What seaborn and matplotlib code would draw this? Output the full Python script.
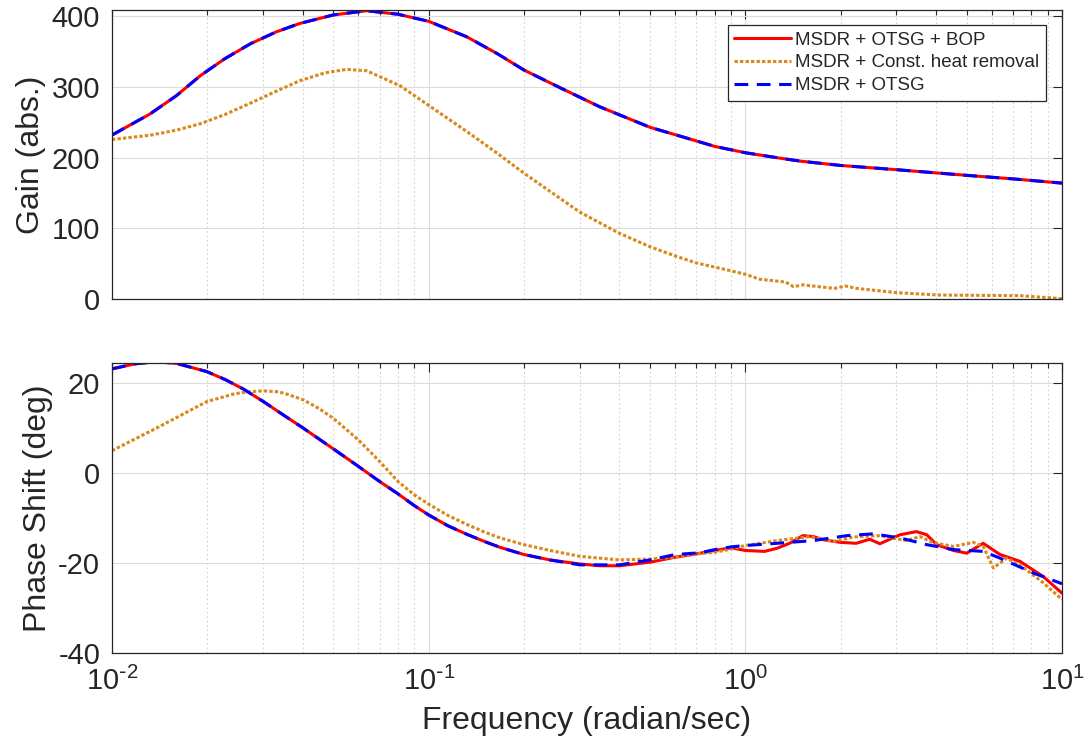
import numpy as np
import pandas as pd
import seaborn as sns
import matplotlib
matplotlib.use("Agg")
import matplotlib.pyplot as plt
from matplotlib.ticker import LogLocator, NullFormatter, FixedLocator

# gain curves
freq_gain = [0.01, 0.0132, 0.016, 0.019, 0.0227, 0.0273, 0.033, 0.0392, 0.05, 0.0637,
             0.08, 0.1, 0.132, 0.165, 0.2, 0.26, 0.347, 0.5, 0.65, 0.8, 1.0, 1.3, 1.5, 2.0,
             3.0, 5.0, 7.0, 10.0]
gain_bop = [232, 262, 288, 316, 340, 361, 378, 390, 402, 408,
            403, 393, 371, 347, 324, 299, 272, 243, 228, 216, 207, 199, 195, 189,
            183, 175, 170, 164]
gain_otsg = [232, 262, 288, 316, 340, 361, 378, 390, 402, 408,
             403, 393, 371, 347, 324, 299, 272, 243, 228, 216, 207, 199, 195, 189,
             183, 175, 170, 164]

freq_gain_const = [0.01, 0.0132, 0.016, 0.019, 0.0227, 0.0273, 0.033, 0.0392, 0.047, 0.0551,
                   0.0637, 0.0811, 0.1, 0.132, 0.165, 0.2, 0.3, 0.4, 0.5, 0.6, 0.7, 0.9,
                   1.0, 1.11, 1.34, 1.42, 1.52, 1.91, 2.07, 2.25, 3.0, 4.08, 7.36, 10.0]
gain_const = [225.7, 231.8, 239, 248, 261, 277, 294, 309, 320, 325,
              323, 302, 274, 237, 206, 178, 123, 93, 74, 61, 51, 40,
              35, 28, 24, 17.5, 20, 15, 18.4, 15, 9, 5.6, 4.7, 0.5]

# phase curves
freq_ph_bop = [0.01, 0.0118, 0.0138, 0.016, 0.0199, 0.0228, 0.026, 0.0301, 0.035, 0.0402,
               0.05, 0.06, 0.07, 0.08, 0.09, 0.1, 0.115, 0.132, 0.15, 0.168, 0.2, 0.2415,
               0.3, 0.347, 0.4, 0.5, 0.6, 0.72, 0.8, 0.9, 1.0, 1.15, 1.26, 1.38, 1.52,
               1.64, 1.76, 2.0, 2.24, 2.47, 2.66, 2.86, 3.08, 3.47, 3.74, 4.02, 4.54,
               5.0, 5.64, 6.37, 7.36, 8.73, 10.0]
phase_bop = [23.2, 24.3, 24.8, 24.4, 22.6, 20.8, 18.7, 15.9, 12.8, 10.0,
             5.4, 1.5, -1.85, -4.6, -7.2, -9.3, -11.7, -13.6, -15.2, -16.5, -18.1, -19.3,
             -20.2, -20.6, -20.6, -19.8, -18.7, -17.8, -17.2, -16.6, -17.2, -17.4, -16.7, -15.6, -13.9,
             -14.1, -14.8, -15.4, -15.6, -14.7, -15.7, -14.7, -13.7, -13.0, -13.7, -15.9, -17.2,
             -17.8, -15.6, -18.1, -19.6, -23.0, -26.7]

freq_ph_otsg = [0.01, 0.0118, 0.0138, 0.016, 0.0199, 0.0228, 0.026, 0.0301, 0.035, 0.0402,
                0.05, 0.06, 0.07, 0.08, 0.09, 0.1, 0.115, 0.132, 0.15, 0.168, 0.2, 0.2415,
                0.3, 0.4, 0.5, 0.6, 0.72, 0.8, 0.9, 1.0, 1.26, 1.64, 2.09, 2.53, 3.08,
                3.74, 4.54, 5.64, 6.37, 8.11, 8.94, 10.0]
phase_otsg = [23.2, 24.3, 24.8, 24.4, 22.6, 20.8, 18.7, 15.9, 12.8, 10.0,
              5.4, 1.5, -1.85, -4.6, -7.2, -9.3, -11.7, -13.6, -15.2, -16.5, -18.1, -19.3,
              -20.4, -20.4, -19.3, -18.1, -17.7, -17.0, -16.4, -16.1, -15.6, -15.0, -13.9, -13.5, -14.4,
              -15.9, -17.0, -17.4, -18.9, -22.2, -23.3, -24.6]

freq_ph_const = [0.01, 0.0138, 0.0199, 0.0242, 0.027, 0.0301, 0.0335, 0.0356, 0.0402, 0.045,
                 0.05, 0.06, 0.07, 0.08, 0.09, 0.1, 0.115, 0.132, 0.15, 0.168, 0.2, 0.242,
                 0.3, 0.4, 0.5, 0.6, 0.72, 0.8, 0.9, 1.0, 1.26, 1.6, 1.9, 2.19, 2.66,
                 3.23, 3.56, 3.9, 4.54, 5.25, 5.64, 6.07, 6.68, 7.36, 8.73, 10.0]
phase_const = [5.0, 10.0, 15.9, 17.6, 18.1, 18.3, 18.1, 17.6, 16.3, 14.4,
               12.2, 7.4, 2.6, -1.85, -4.8, -6.9, -9.4, -11.4, -13.1, -14.4, -15.9, -17.2,
               -18.5, -19.3, -19.1, -18.7, -17.9, -17.6, -16.9, -16.1, -15.0, -14.1, -15.2, -14.2, -13.9,
               -15.0, -14.1, -15.4, -16.3, -15.4, -16.3, -21.1, -18.9, -20.4, -24.4, -28.1]

labels = ["MSDR + OTSG + BOP", "MSDR + Const. heat removal", "MSDR + OTSG"]
xtick_vals = [0.01, 0.1, 1, 10]
xtick_labels = ["$10^{\\text{-}2}$", "$10^{\\text{-}1}$", "$10^{0}$", "$10^{1}$"]

sns.set_style("white")
plt.rcParams["font.family"] = ["Liberation Sans", "DejaVu Sans"]
plt.rcParams["mathtext.default"] = "regular"
plt.rcParams["axes.unicode_minus"] = False

dark = "#262626"
c_red = "#FF0000"
c_orange = "#D9891C"
c_blue = "#0000FF"
lw = 2.2

fig = plt.figure(figsize=(10.85, 7.56), dpi=100)
ax1 = fig.add_axes([112 / 1085, 1 - 299 / 756, 950 / 1085, 289 / 756])
ax2 = fig.add_axes([112 / 1085, 1 - 653 / 756, 950 / 1085, 290 / 756], sharex=ax1)

for ax in (ax1, ax2):
    ax.set_xscale("log")


def draw(ax, fb, yb, fc, yc, fo, yo, lab):
    sns.lineplot(x=fb, y=yb, ax=ax, color=c_red, lw=lw, label=lab[0] if lab else None)
    sns.lineplot(x=fc, y=yc, ax=ax, color=c_orange, lw=lw, label=lab[1] if lab else None)
    ax.lines[-1].set_dashes((1.1, 0.7))
    sns.lineplot(x=fo, y=yo, ax=ax, color=c_blue, lw=lw, label=lab[2] if lab else None)
    ax.lines[-1].set_dashes((4.5, 2.8))


draw(ax1, freq_gain, gain_bop, freq_gain_const, gain_const, freq_gain, gain_otsg, labels)
draw(ax2, freq_ph_bop, phase_bop, freq_ph_const, phase_const, freq_ph_otsg, phase_otsg, None)

ax1.set_ylim(0, 409)
ax1.set_yticks([0, 100, 200, 300, 400])
ax2.set_ylim(-40, 24.5)
ax2.set_yticks([-40, -20, 0, 20])

for ax in (ax1, ax2):
    ax.set_xlim(0.01, 10)
    ax.xaxis.set_major_locator(FixedLocator(xtick_vals))
    ax.xaxis.set_minor_locator(LogLocator(base=10, subs=np.arange(2, 10), numticks=20))
    ax.xaxis.set_minor_formatter(NullFormatter())
    ax.grid(True, which="major", color="#DCDCDC", lw=0.8, ls="-")
    ax.grid(True, which="minor", axis="x", color="#D2D2D2", lw=0.8, ls=(0, (1.5, 2.5)))
    ax.set_axisbelow(True)
    ax.tick_params(which="both", direction="in", top=True, right=True, colors=dark,
                   labelcolor=dark, width=0.8, labelsize=21, pad=8.5)
    ax.tick_params(which="major", length=6.5)
    ax.tick_params(which="minor", length=3.5)
    for sp in ax.spines.values():
        sp.set_color(dark)
        sp.set_linewidth(0.9)

ax2.set_xticklabels(xtick_labels)
ax2.tick_params(axis="x", pad=10)
ax1.tick_params(labelbottom=False)

ax1.set_ylabel("Gain (abs.)", fontsize=23, color=dark, labelpad=4)
ax2.set_ylabel("Phase Shift (deg)", fontsize=23, color=dark, labelpad=4)
ax2.set_xlabel("Frequency (radian/sec)", fontsize=23, color=dark, labelpad=7)

leg = ax1.legend(loc="upper right", bbox_to_anchor=(0.9832, 0.948), fontsize=13.5,
                 handlelength=3.0, handletextpad=0.25, labelspacing=0.3,
                 borderpad=0.35, borderaxespad=0, fancybox=False, framealpha=1)
leg.get_frame().set_edgecolor(dark)
leg.get_frame().set_linewidth(0.9)

fig.savefig("out.png", dpi=100)
